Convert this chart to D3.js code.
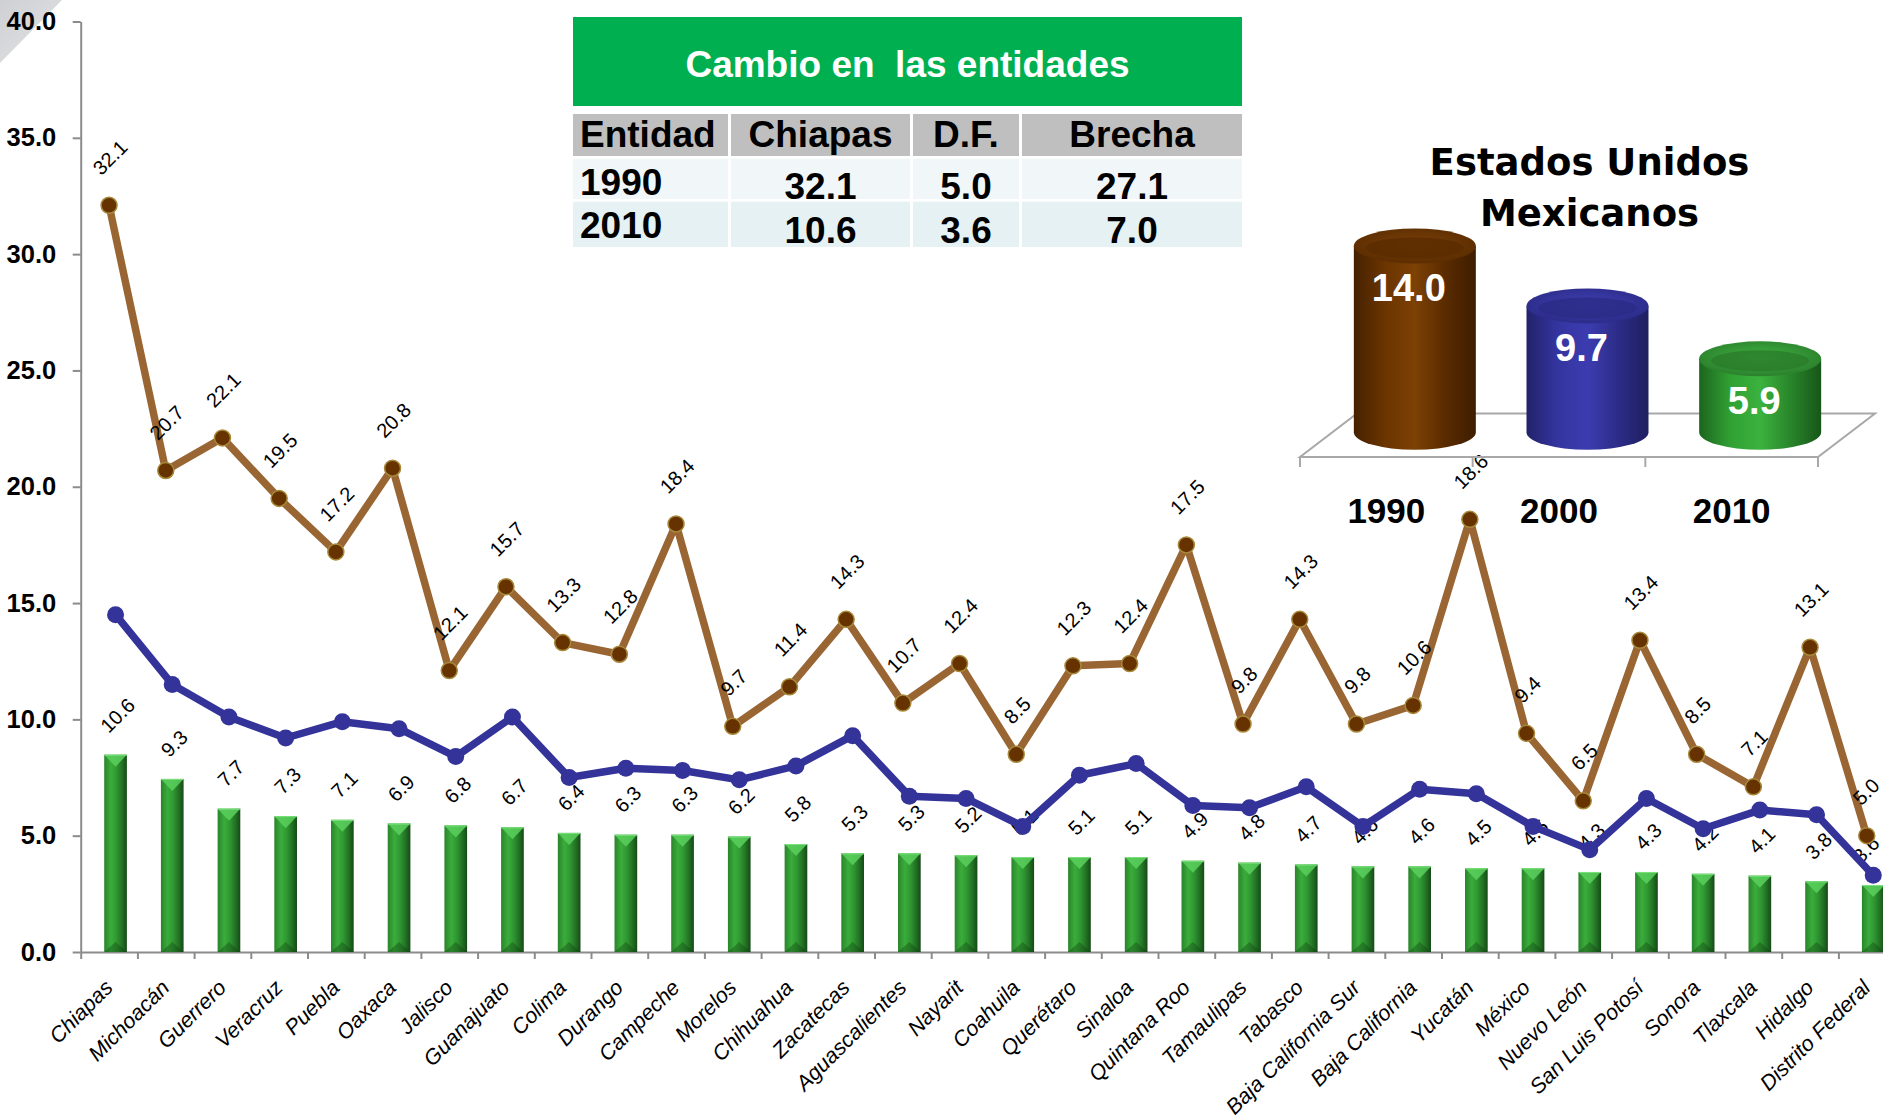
<!DOCTYPE html>
<html><head><meta charset="utf-8">
<script src="https://cdn.jsdelivr.net/npm/d3@7"></script>
<style>
html,body{margin:0;padding:0;background:#fff;overflow:hidden;}
svg{display:block;font-family:"Liberation Sans",Arial,sans-serif;}
</style></head><body>
<svg id="chart" width="1883" height="1118"></svg>
<script>
// ---------------- DATA ----------------
const categories = ["Chiapas","Michoacán","Guerrero","Veracruz","Puebla","Oaxaca","Jalisco","Guanajuato","Colima","Durango","Campeche","Morelos","Chihuahua","Zacatecas","Aguascalientes","Nayarit","Coahuila","Querétaro","Sinaloa","Quintana Roo","Tamaulipas","Tabasco","Baja California Sur","Baja California","Yucatán","México","Nuevo León","San Luis Potosí","Sonora","Tlaxcala","Hidalgo","Distrito Federal"];
const values1990 = [32.1,20.7,22.1,19.5,17.2,20.8,12.1,15.7,13.3,12.8,18.4,9.7,11.4,14.3,10.7,12.4,8.5,12.3,12.4,17.5,9.8,14.3,9.8,10.6,18.6,9.4,6.5,13.4,8.5,7.1,13.1,5.0];
const values2000 = [14.5,11.5,10.1,9.2,9.9,9.6,8.4,10.1,7.5,7.9,7.8,7.4,8.0,9.3,6.7,6.6,5.4,7.6,8.1,6.3,6.2,7.1,5.4,7.0,6.8,5.4,4.4,6.6,5.3,6.1,5.9,3.3];
const values2010 = [10.6,9.3,7.7,7.3,7.1,6.9,6.8,6.7,6.4,6.3,6.3,6.2,5.8,5.3,5.3,5.2,5.1,5.1,5.1,4.9,4.8,4.7,4.6,4.6,4.5,4.5,4.3,4.3,4.2,4.1,3.8,3.6];
const yTickValues = [0,5,10,15,20,25,30,35,40];

const tableTitle = "Cambio en  las entidades";
const tableHeader = ["Entidad","Chiapas","D.F.","Brecha"];
const tableRows = [["1990","32.1","5.0","27.1"],["2010","10.6","3.6","7.0"]];

const nationalTitle = ["Estados Unidos","Mexicanos"];
const nationalYears = ["1990","2000","2010"];
const nationalValues = [14.0, 9.7, 5.9];

// ---------------- SETUP ----------------
const W = 1883;
const svg = d3.select("#chart");
const defs = svg.append("defs");
const FONT = '"Liberation Sans", Arial, sans-serif';

// corner decoration
const cg = defs.append("linearGradient").attr("id","cornerG").attr("x1","0").attr("y1","0").attr("x2","1").attr("y2","1");
cg.append("stop").attr("offset","0%").attr("stop-color","#cfd0d3");
cg.append("stop").attr("offset","100%").attr("stop-color","#e2e3e5");
svg.append("path").attr("d","M0,0 L62,0 L0,63 Z").attr("fill","url(#cornerG)");

const plotLeft = 80.7, step = 56.7, zeroY = 952, topY = 21.5;
const x = d3.scaleBand().domain(categories).range([plotLeft, plotLeft + step * categories.length]).padding(0);
const bw = x.bandwidth();
const shift = 6.5; // bars & 2000 line sit slightly right
const y = d3.scaleLinear().domain([0, 40]).range([zeroY, topY]);
const yBar = d3.scaleLinear().domain([0, 50]).range([zeroY, topY]);

// ---------------- AXES ----------------
const axisColor = "#8c8c8c";
const yAxis = svg.append("g").attr("transform", `translate(${plotLeft},0)`)
  .call(d3.axisLeft(y).tickValues(yTickValues).tickFormat(d3.format(".1f")).tickSize(8).tickSizeOuter(0).tickPadding(16.5));
yAxis.attr("font-family", FONT).attr("font-size", 25.5);
yAxis.select(".domain").attr("stroke", axisColor).attr("stroke-width", 2);
yAxis.selectAll(".tick line").attr("stroke", axisColor).attr("stroke-width", 2);
yAxis.selectAll(".tick text").attr("font-weight", "bold").attr("fill", "#000");

const xb = d3.scaleLinear().domain([0, categories.length]).range(x.range());
const xTicks = svg.append("g").attr("transform", `translate(0,${zeroY})`)
  .call(d3.axisBottom(xb).tickValues(d3.range(0, categories.length + 1)).tickFormat("").tickSize(7).tickSizeOuter(0));
xTicks.select(".domain").attr("stroke", axisColor).attr("stroke-width", 2);
xTicks.selectAll(".tick line").attr("stroke", axisColor).attr("stroke-width", 2);

const xAxis = svg.append("g").attr("transform", `translate(0,${zeroY})`)
  .call(d3.axisBottom(x).tickSize(0).tickPadding(0));
xAxis.select(".domain").remove();
xAxis.attr("font-family", FONT).attr("font-size", 21.5);
xAxis.selectAll(".tick text")
  .attr("x", 0).attr("y", 0).attr("dy", null)
  .attr("text-anchor", "end").attr("font-style", "italic").attr("fill", "#000")
  .attr("transform", "translate(5,37) rotate(-45)");

// ---------------- BARS (2010) ----------------
const bg = defs.append("linearGradient").attr("id", "barG").attr("x1", "0").attr("x2", "1").attr("y1", "0").attr("y2", "0");
[["0%", "#2a842b"], ["30%", "#3aad3b"], ["55%", "#2f9631"], ["80%", "#226f24"], ["100%", "#154a16"]]
  .forEach(s => bg.append("stop").attr("offset", s[0]).attr("stop-color", s[1]));

const barW = bw * 0.4;
const barsG = svg.append("g");
categories.forEach((c, i) => {
  const cx = x(c) + bw / 2 + shift;
  const top = yBar(values2010[i]);
  barsG.append("rect").attr("x", cx - barW / 2).attr("y", top).attr("width", barW)
    .attr("height", zeroY - top).attr("fill", "url(#barG)");
  barsG.append("path")
    .attr("d", `M${cx - barW / 2},${top} L${cx + barW / 2},${top} L${cx},${top + 12} Z`)
    .attr("fill", "#5bd05d").attr("opacity", 0.85);
  barsG.append("path")
    .attr("d", `M${cx - barW / 2},${zeroY} L${cx},${zeroY - 10} L${cx + barW / 2},${zeroY} Z`)
    .attr("fill", "#0d3a0e").attr("opacity", 0.35);
  barsG.append("line").attr("x1", cx - barW / 2).attr("x2", cx + barW / 2).attr("y1", top + 0.5).attr("y2", top + 0.5)
    .attr("stroke", "#7be07c").attr("stroke-width", 1);
});

const LABEL_SIZE = 20;
function rotLabel(g, txt, cx, bottomY, gap) {
  const t = g.append("text").text(txt).attr("font-family", FONT).attr("font-size", LABEL_SIZE).attr("fill", "#000")
    .attr("text-anchor", "middle").attr("dominant-baseline", "central");
  const L = t.node().getComputedTextLength();
  const half = (L + LABEL_SIZE * 0.72) / (2 * Math.SQRT2);
  const cy = bottomY - (gap + half);
  const cxx = Math.min(cx, W - half - 2);
  t.attr("x", cxx).attr("y", cy).attr("transform", `rotate(-45,${cxx},${cy})`);
}

const barLabels = svg.append("g");
categories.forEach((c, i) => {
  rotLabel(barLabels, d3.format(".1f")(values2010[i]), x(c) + bw / 2 + shift + 2, yBar(values2010[i]), 20.5);
});

// ---------------- LINE 2000 ----------------
const blue = "#333399";
svg.append("path").datum(values2000)
  .attr("d", d3.line().x((d, i) => x(categories[i]) + bw / 2 + shift).y(d => y(d)))
  .attr("fill", "none").attr("stroke", blue).attr("stroke-width", 7.5).attr("stroke-linejoin", "round");
svg.append("g").selectAll("circle").data(values2000).join("circle")
  .attr("cx", (d, i) => x(categories[i]) + bw / 2 + shift).attr("cy", d => y(d)).attr("r", 8.5).attr("fill", blue);

// ---------------- LINE 1990 ----------------
svg.append("path").datum(values1990)
  .attr("d", d3.line().x((d, i) => x(categories[i]) + bw / 2).y(d => y(d)))
  .attr("fill", "none").attr("stroke", "#996633").attr("stroke-width", 7.5).attr("stroke-linejoin", "round");
svg.append("g").selectAll("circle").data(values1990).join("circle")
  .attr("cx", (d, i) => x(categories[i]) + bw / 2).attr("cy", d => y(d)).attr("r", 8)
  .attr("fill", "#663300").attr("stroke", "#a8893a").attr("stroke-width", 1.5);
const brownLabels = svg.append("g");
categories.forEach((c, i) => {
  rotLabel(brownLabels, d3.format(".1f")(values1990[i]), x(c) + bw / 2 + 1, y(values1990[i]), 29);
});

// ---------------- TABLE ----------------
const tbl = svg.append("g").attr("font-family", FONT).attr("font-weight", "bold");
tbl.append("rect").attr("x", 573).attr("y", 17).attr("width", 669).attr("height", 89).attr("fill", "#00b050");
tbl.append("text").attr("x", 907.5).attr("y", 77).attr("text-anchor", "middle").attr("fill", "#fff")
  .attr("font-size", 37).style("white-space", "pre").text(tableTitle);
const colX = d3.scaleOrdinal().domain(tableHeader).range([[573, 728], [731, 910], [913, 1019], [1022, 1242]]);
const rowBands = [[114, 156, "#bfbfbf"], [158.7, 199, "#f1f7f9"], [201.7, 247, "#e5f1f3"]];
const baselines = [[147, 147], [195, 198.5], [237.5, 243]];
const allRows = [tableHeader].concat(tableRows);
allRows.forEach((row, r) => {
  row.forEach((cell, ci) => {
    const [x0, x1] = colX(tableHeader[ci]);
    tbl.append("rect").attr("x", x0).attr("y", rowBands[r][0]).attr("width", x1 - x0)
      .attr("height", rowBands[r][1] - rowBands[r][0]).attr("fill", rowBands[r][2]);
    const t = tbl.append("text").attr("font-size", 37).attr("fill", "#000").text(cell);
    if (ci === 0) t.attr("x", x0 + 7).attr("y", baselines[r][0]);
    else t.attr("x", (x0 + x1) / 2).attr("y", baselines[r][1]).attr("text-anchor", "middle");
  });
});

// ---------------- NATIONAL 3D CYLINDERS ----------------
const ins = svg.append("g");
const xc = d3.scaleBand().domain(nationalYears).range([1300, 1818]);
const yc = d3.scaleLinear().domain([0, 14]).range([441, 246]);
const depthX = 57, depthY = -43.5, frontY = 457;
const floorColor = "#a8a8a8";
ins.append("path")
  .attr("d", `M1300,${frontY} L1818,${frontY} L${1818 + depthX},${frontY + depthY} L${1300 + depthX},${frontY + depthY} Z`)
  .attr("fill", "none").attr("stroke", floorColor).attr("stroke-width", 2);
d3.range(0, nationalYears.length + 1).forEach(k => {
  const xx = 1300 + k * xc.bandwidth();
  ins.append("line").attr("x1", xx).attr("x2", xx).attr("y1", frontY).attr("y2", frontY + 10)
    .attr("stroke", floorColor).attr("stroke-width", 2);
});

const cylColors = [
  {stops: ["#452100", "#6b3400", "#7c4105", "#5a2b00", "#3e1d00"], top: "#5a2c00", rim: "#7a4008"},
  {stops: ["#22226a", "#3434a0", "#3c3cb0", "#2c2c88", "#1f1f60"], top: "#2a2a86", rim: "#4040b4"},
  {stops: ["#1c651e", "#30a033", "#3cb23f", "#28852a", "#18561a"], top: "#2a7c2b", rim: "#3fb542"}
];
nationalYears.forEach((yr, i) => {
  const g = defs.append("linearGradient").attr("id", "cyl" + i).attr("x1", "0").attr("x2", "1").attr("y1", "0").attr("y2", "0");
  cylColors[i].stops.forEach((s, k) => g.append("stop").attr("offset", (k * 25) + "%").attr("stop-color", s));
  const rg = defs.append("radialGradient").attr("id", "cylTop" + i).attr("cx", "50%").attr("cy", "45%").attr("r", "60%");
  rg.append("stop").attr("offset", "0%").attr("stop-color", cylColors[i].rim);
  rg.append("stop").attr("offset", "100%").attr("stop-color", cylColors[i].top);
});
const rx = 61, ry = 17.5, baseY = frontY + depthY / 2 - 3;
nationalYears.forEach((yr, i) => {
  const cx = xc(yr) + xc.bandwidth() / 2 + depthX / 2;
  const topC = yc(nationalValues[i]);
  ins.append("path")
    .attr("d", `M${cx - rx},${topC} L${cx - rx},${baseY} A${rx},${ry} 0 0 0 ${cx + rx},${baseY} L${cx + rx},${topC} Z`)
    .attr("fill", `url(#cyl${i})`);
  ins.append("ellipse").attr("cx", cx).attr("cy", topC).attr("rx", rx).attr("ry", ry)
    .attr("fill", `url(#cylTop${i})`);
  ins.append("ellipse").attr("cx", cx).attr("cy", topC + 2).attr("rx", rx - 12).attr("ry", ry - 7)
    .attr("fill", cylColors[i].top).attr("opacity", 0.8);
  ins.append("text").attr("x", cx - 6).attr("y", topC + 55).attr("text-anchor", "middle")
    .attr("font-family", FONT).attr("font-weight", "bold").attr("font-size", 38).attr("fill", "#fff")
    .text(d3.format(".1f")(nationalValues[i]));
  ins.append("text").attr("x", xc(yr) + xc.bandwidth() / 2).attr("y", 523).attr("text-anchor", "middle")
    .attr("font-family", FONT).attr("font-weight", "bold").attr("font-size", 35).attr("fill", "#000").text(yr);
});
nationalTitle.forEach((line, k) => {
  ins.append("text").attr("x", 1589.5).attr("y", 175 + k * 51).attr("text-anchor", "middle")
    .attr("font-family", '"DejaVu Sans", Verdana, sans-serif').attr("font-weight", "bold").attr("font-size", 37)
    .attr("fill", "#000").text(line);
});
</script>
</body></html>
